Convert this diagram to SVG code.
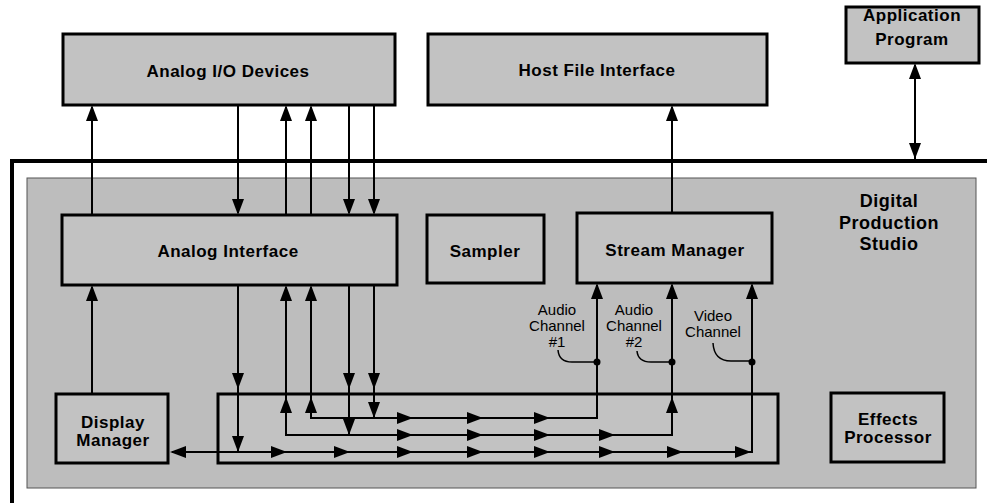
<svg xmlns="http://www.w3.org/2000/svg" xmlns:xlink="http://www.w3.org/1999/xlink" width="987" height="503" viewBox="0 0 987 503">
<style>
.box{fill:#c2c2c2;stroke:#000;stroke-width:3}
.lbl{font-family:"Liberation Sans",Arial,Helvetica,sans-serif;font-weight:bold;font-size:17px;letter-spacing:0.5px;text-anchor:middle;fill:#000}
.ch{font-family:"Liberation Sans",Arial,Helvetica,sans-serif;font-size:15px;text-anchor:middle;fill:#000}
.ln{fill:none;stroke:#000;stroke-width:2}
.thk{fill:none;stroke:#000;stroke-width:4}
</style>
<defs>
<path id="ah" d="M0,0 L-16,-6 L-16,6 Z" fill="#000"/>
</defs>
<rect width="987" height="503" fill="#fff"/>

<g id="studio">
<path class="thk" d="M12,503 L12,161 L987,161"/>
<rect x="27" y="178" width="949" height="310" fill="#bdbdbd" stroke="#555" stroke-width="1"/>
<text class="lbl" style="font-size:18px" x="889" y="207">Digital</text>
<text class="lbl" style="font-size:18px" x="889" y="229">Production</text>
<text class="lbl" style="font-size:18px" x="889" y="250">Studio</text>
</g>

<g id="analog-io">
<rect class="box" x="63" y="34" width="332" height="71"/>
<text class="lbl" x="228" y="77">Analog I/O Devices</text>
</g>
<g id="host-file">
<rect class="box" x="428" y="34" width="339" height="71"/>
<text class="lbl" x="597" y="76">Host File Interface</text>
</g>
<g id="app-program">
<rect class="box" x="846" y="7" width="133" height="56"/>
<text class="lbl" x="912" y="21">Application</text>
<text class="lbl" x="912" y="45">Program</text>
</g>
<g id="analog-interface">
<rect class="box" x="62" y="215" width="335" height="70"/>
<text class="lbl" x="228" y="257">Analog Interface</text>
</g>
<g id="sampler">
<rect class="box" x="427" y="215" width="117" height="68"/>
<text class="lbl" x="485" y="257">Sampler</text>
</g>
<g id="stream-manager">
<rect class="box" x="577" y="213" width="195" height="70"/>
<text class="lbl" x="675" y="256">Stream Manager</text>
</g>
<g id="bus">
<rect class="box" x="218" y="394" width="560" height="69"/>
</g>
<g id="display-manager">
<rect class="box" x="56" y="394" width="112" height="69"/>
<text class="lbl" x="113" y="428">Display</text>
<text class="lbl" x="113" y="446">Manager</text>
</g>
<g id="effects-processor">
<rect class="box" x="831" y="393" width="113" height="69"/>
<text class="lbl" x="888" y="425">Effects</text>
<text class="lbl" x="888" y="443">Processor</text>
</g>

<g id="connectors">
<!-- Application Program <-> studio -->
<path class="ln" d="M915,65 L915,159" stroke-width="1.5"/>
<use xlink:href="#ah" transform="translate(915,63) rotate(-90)"/>
<use xlink:href="#ah" transform="translate(915,159) rotate(90)"/>
<!-- Stream Manager -> Host File -->
<path class="ln" d="M672,213 L672,107"/>
<use xlink:href="#ah" transform="translate(672,105) rotate(-90)"/>
<!-- Analog I/O <-> Analog Interface -->
<path class="ln" d="M92,215 L92,107"/>
<use xlink:href="#ah" transform="translate(92,105) rotate(-90)"/>
<path class="ln" d="M238,105 L238,213"/>
<use xlink:href="#ah" transform="translate(238,215) rotate(90)"/>
<path class="ln" d="M286,215 L286,107"/>
<use xlink:href="#ah" transform="translate(286,105) rotate(-90)"/>
<path class="ln" d="M311,215 L311,107"/>
<use xlink:href="#ah" transform="translate(311,105) rotate(-90)"/>
<path class="ln" d="M349,105 L349,213"/>
<use xlink:href="#ah" transform="translate(349,215) rotate(90)"/>
<path class="ln" d="M374,105 L374,213"/>
<use xlink:href="#ah" transform="translate(374,215) rotate(90)"/>
<!-- Display Manager -> Analog Interface -->
<path class="ln" d="M92,394 L92,287"/>
<use xlink:href="#ah" transform="translate(92,285) rotate(-90)"/>
<!-- Analog Interface down into bus -->
<path class="ln" d="M238,285 L238,452"/>
<use xlink:href="#ah" transform="translate(238,389) rotate(90)"/>
<use xlink:href="#ah" transform="translate(238,452) rotate(90)"/>
<path class="ln" d="M349,285 L349,435"/>
<use xlink:href="#ah" transform="translate(349,389) rotate(90)"/>
<use xlink:href="#ah" transform="translate(349,435) rotate(90)"/>
<path class="ln" d="M374,285 L374,418"/>
<use xlink:href="#ah" transform="translate(374,389) rotate(90)"/>
<use xlink:href="#ah" transform="translate(374,418) rotate(90)"/>
<!-- bus up into Analog Interface -->
<path class="ln" d="M286,287 L286,435 L672,435 L672,285"/>
<use xlink:href="#ah" transform="translate(286,285) rotate(-90)"/>
<use xlink:href="#ah" transform="translate(286,397) rotate(-90)"/>
<path class="ln" d="M311,287 L311,418 L597,418 L597,285"/>
<use xlink:href="#ah" transform="translate(311,285) rotate(-90)"/>
<use xlink:href="#ah" transform="translate(311,397) rotate(-90)"/>
<!-- upper line arrows -->
<use xlink:href="#ah" transform="translate(413,418)"/>
<use xlink:href="#ah" transform="translate(483,418)"/>
<use xlink:href="#ah" transform="translate(550,418)"/>
<use xlink:href="#ah" transform="translate(597,283) rotate(-90)"/>
<!-- middle line arrows -->
<use xlink:href="#ah" transform="translate(413,435)"/>
<use xlink:href="#ah" transform="translate(483,435)"/>
<use xlink:href="#ah" transform="translate(550,435)"/>
<use xlink:href="#ah" transform="translate(615,435)"/>
<use xlink:href="#ah" transform="translate(672,397) rotate(-90)"/>
<use xlink:href="#ah" transform="translate(672,283) rotate(-90)"/>
<!-- lower line -->
<path class="ln" d="M172,452 L752,452 L752,285"/>
<use xlink:href="#ah" transform="translate(170,452) rotate(180)"/>
<use xlink:href="#ah" transform="translate(287,452)"/>
<use xlink:href="#ah" transform="translate(350,452)"/>
<use xlink:href="#ah" transform="translate(413,452)"/>
<use xlink:href="#ah" transform="translate(483,452)"/>
<use xlink:href="#ah" transform="translate(550,452)"/>
<use xlink:href="#ah" transform="translate(615,452)"/>
<use xlink:href="#ah" transform="translate(683,452)"/>
<use xlink:href="#ah" transform="translate(751,452)"/>
<use xlink:href="#ah" transform="translate(752,283) rotate(-90)"/>
<!-- channel junctions and leaders -->
<circle cx="597" cy="362" r="3.5" fill="#000"/>
<circle cx="672" cy="362" r="3.5" fill="#000"/>
<circle cx="752" cy="362" r="3.5" fill="#000"/>
<path d="M558,350 Q559,362 572,362 L597,362" fill="none" stroke="#000" stroke-width="1.5"/>
<path d="M637,351 Q638,362 651,362 L672,362" fill="none" stroke="#000" stroke-width="1.5"/>
<path d="M713,343 Q714,361 731,361 L752,361" fill="none" stroke="#000" stroke-width="1.5"/>
</g>

<g id="channel-labels">
<text class="ch" x="557" y="315">Audio</text>
<text class="ch" x="557" y="331">Channel</text>
<text class="ch" x="557" y="347">#1</text>
<text class="ch" x="634" y="315">Audio</text>
<text class="ch" x="634" y="331">Channel</text>
<text class="ch" x="634" y="347">#2</text>
<text class="ch" x="713" y="321">Video</text>
<text class="ch" x="713" y="337">Channel</text>
</g>
</svg>
